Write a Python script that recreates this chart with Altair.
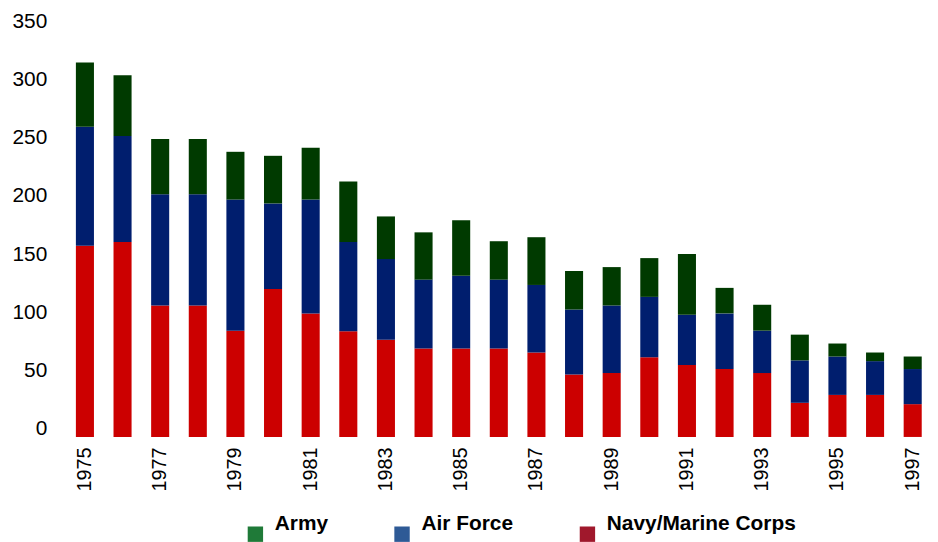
import altair as alt
import pandas as pd

years = list(range(1975, 1998))
navy = [157.3, 160.5, 108.2, 108.2, 87.5, 121.8, 101.7, 86.9, 80.1, 72.8, 72.8, 72.8,
        69.5, 51.5, 52.6, 65.7, 59.2, 55.9, 52.6, 28.1, 34.6, 34.6, 27.0]
air_force = [98.1, 87.3, 91.6, 91.6, 107.9, 70.4, 93.7, 73.6, 66.3, 56.7, 59.9, 56.7,
             55.6, 53.4, 55.6, 49.6, 41.4, 45.8, 34.9, 34.9, 31.6, 27.8, 28.9]
army = [52.9, 49.9, 45.5, 45.5, 39.3, 39.2, 42.6, 49.7, 35.1, 38.9, 45.6, 31.6,
        39.3, 31.7, 31.6, 31.9, 49.9, 21.0, 21.3, 21.2, 10.7, 7.1, 10.3]

services = ["Army", "Air Force", "Navy/Marine Corps"]
bar_colors = ["#003a00", "#001e6e", "#cc0000"]
legend_colors = ["#1f7a38", "#2e5a96", "#a0182c"]
stack_rank = {"Navy/Marine Corps": 0, "Air Force": 1, "Army": 2}

y_ticks = [0, 50, 100, 150, 200, 250, 300, 350]
x_labels = [y for y in years if y % 2 == 1]

rows = []
for i, yr in enumerate(years):
    for name, vals in (("Navy/Marine Corps", navy), ("Air Force", air_force), ("Army", army)):
        rows.append({"year": yr, "service": name, "value": vals[i], "rank": stack_rank[name]})
df = pd.DataFrame(rows)

FONT = "Liberation Sans"

bars = alt.Chart(df).mark_bar().encode(
    x=alt.X("year:O",
            scale=alt.Scale(paddingInner=0.52, paddingOuter=0.22),
            axis=alt.Axis(values=x_labels, labelAngle=-90, ticks=False, domain=False,
                          labelFontSize=20, labelPadding=10, title=None,
                          labelColor="#000000", labelFont=FONT)),
    y=alt.Y("value:Q", stack="zero",
            scale=alt.Scale(domain=[0, 350], nice=False),
            axis=None),
    color=alt.Color("service:N",
                    scale=alt.Scale(domain=services, range=bar_colors),
                    legend=None),
    order=alt.Order("rank:Q", sort="ascending"),
)

legend_layer = alt.Chart(pd.DataFrame({"service": services})).mark_square(opacity=0).encode(
    color=alt.Color("service:N",
                    scale=alt.Scale(domain=services, range=legend_colors),
                    legend=alt.Legend(orient="none", legendX=178.5, legendY=515,
                                      direction="horizontal", title=None,
                                      symbolType="square", symbolSize=240,
                                      symbolStrokeWidth=0, symbolOpacity=1,
                                      labelFontSize=21, labelFontWeight="bold",
                                      labelFont=FONT, labelColor="#000000",
                                      labelBaseline="bottom", labelOffset=9,
                                      labelLimit=300, columnPadding=63.6, padding=0)),
)

axis_layer = alt.Chart(pd.DataFrame({"v": [0, 350]})).mark_point(opacity=0).encode(
    y=alt.Y("v:Q",
            scale=alt.Scale(domain=[-6.8, 358.1], nice=False, zero=False),
            axis=alt.Axis(orient="left", values=y_ticks, ticks=False, domain=False,
                          grid=False, labelFontSize=21, labelPadding=21, title=None,
                          labelColor="#000000", labelFont=FONT)),
)

chart = alt.layer(bars, legend_layer, axis_layer).resolve_scale(
    y="independent", color="independent"
).properties(
    width=868,
    height=428,
    autosize=alt.AutoSizeParams(type="none"),
    padding={"left": 60, "top": 2, "right": 0, "bottom": 105},
).configure(font=FONT).configure_view(fill="#c0c0c0", stroke=None)

chart.save("out.html", embed_options={"renderer": "svg", "actions": False})
